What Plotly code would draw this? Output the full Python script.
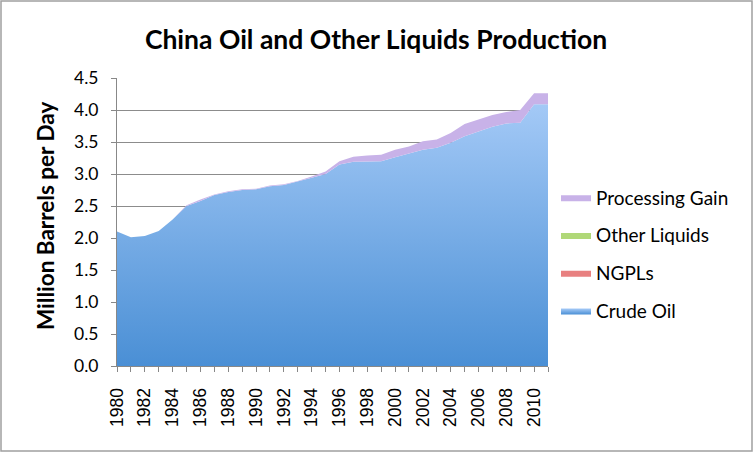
import plotly.graph_objects as go

years = list(range(1980, 2012))
crude_oil = [2.10, 2.01, 2.03, 2.11, 2.29, 2.50, 2.58, 2.67, 2.72, 2.75, 2.76, 2.81,
             2.83, 2.88, 2.94, 3.00, 3.15, 3.19, 3.19, 3.20, 3.26, 3.32, 3.38, 3.41,
             3.49, 3.59, 3.67, 3.74, 3.79, 3.80, 4.09, 4.09]
ngpls = [0.0] * 32
other_liquids = [0.0, 0.0, 0.0, 0.0, 0.0, 0.0, 0.0, 0.0, 0.0, 0.0, 0.0, 0.0,
                 0.0, 0.0, 0.0, 0.0, 0.0, 0.0, 0.0, 0.0, 0.0, 0.0, 0.0, 0.0,
                 0.0, 0.0, 0.0, 0.0, 0.0, 0.0, 0.0, 0.0]
processing_gain = [0.0, 0.0, 0.0, 0.0, 0.0, 0.01, 0.02, 0.01, 0.01, 0.01, 0.01, 0.01,
                   0.01, 0.01, 0.02, 0.04, 0.05, 0.08, 0.10, 0.10, 0.12, 0.11, 0.13, 0.13,
                   0.15, 0.19, 0.18, 0.18, 0.18, 0.20, 0.17, 0.17]
tick_years = list(range(1980, 2011, 2))

FONT = "Lato"
fig = go.Figure()
fig.add_trace(go.Scatter(
    x=years, y=crude_oil, name="Crude Oil", stackgroup="one", mode="lines",
    line=dict(width=0, color="#6fa6e6"), fillcolor="#6fa6e6",
    fillgradient=dict(type="vertical", start=0, stop=4.3,
                      colorscale=[[0, "#4a8fd5"], [1, "#a8ccf8"]]),
    legendgroup="a", legendrank=4))
fig.add_trace(go.Scatter(
    x=years, y=ngpls, name="NGPLs", stackgroup="one", mode="lines",
    line=dict(width=0, color="#e07a7a"), fillcolor="#e88080", legendgroup="b", legendrank=3))
fig.add_trace(go.Scatter(
    x=years, y=other_liquids, name="Other Liquids", stackgroup="one", mode="lines",
    line=dict(width=0, color="#a8d070"), fillcolor="#b0d878", legendgroup="c", legendrank=2))
fig.add_trace(go.Scatter(
    x=years, y=processing_gain, name="Processing Gain", stackgroup="one", mode="lines",
    line=dict(width=0, color="#9a80cc"), fillcolor="#c8b2e8", legendgroup="d", legendrank=1))

W, H = 754, 453
L, R, T, B = 117, 206, 78, 87
pw, ph = W - L - R, H - T - B

fig.update_layout(
    width=W, height=H,
    margin=dict(l=L, r=R, t=T, b=B),
    paper_bgcolor="white", plot_bgcolor="white",
    font=dict(family=FONT, color="black"),
    title=dict(text="<b>China Oil and Other Liquids Production</b>",
               x=376 / W, xanchor="center", y=1 - 40 / H, yanchor="middle",
               font=dict(size=26.5, family=FONT)),
    showlegend=True,
    legend=dict(x=(556 - L) / pw, xanchor="left", y=(H - B - 254) / ph, yanchor="middle",
                traceorder="grouped", tracegroupgap=10,
                font=dict(size=19, family=FONT),
                bgcolor="rgba(0,0,0,0)"),
    xaxis=dict(range=[1980, 2011], tickmode="array", tickvals=tick_years,
               ticktext=[str(y) for y in tick_years], tickangle=-90,
               tickfont=dict(size=17.5, family="Liberation Sans"),
               ticklabelstandoff=9,
               showgrid=False, showline=True, linecolor="#888", linewidth=1,
               ticks="outside", ticklen=5, tickcolor="#888",
               minor=dict(ticks="outside", dtick=1, ticklen=5, tickcolor="#888"),
               zeroline=False),
    yaxis=dict(range=[0, 4.5], dtick=0.5, tickformat=".1f",
               tickfont=dict(size=17.5, family=FONT),
               ticklabelstandoff=9,
               showgrid=True, gridcolor="#8c8c8c", gridwidth=1,
               showline=True, linecolor="#888", linewidth=1,
               ticks="outside", ticklen=5, tickcolor="#888", zeroline=False),
    annotations=[dict(text="<b>Million Barrels per Day</b>", textangle=-90,
                      xref="paper", yref="paper", x=(45 - L) / pw, y=(H - B - 216) / ph,
                      xanchor="center", yanchor="middle", showarrow=False,
                      font=dict(size=22.5, family=FONT))],
    shapes=[dict(type="rect", xref="paper", yref="paper",
                 x0=(1 - L) / pw, x1=(752 - L) / pw,
                 y0=(H - B - 451) / ph, y1=(H - B - 1) / ph,
                 line=dict(color="#a0a0a0", width=1.5), fillcolor="rgba(0,0,0,0)",
                 layer="below")],
)
fig.write_html("out.html")
